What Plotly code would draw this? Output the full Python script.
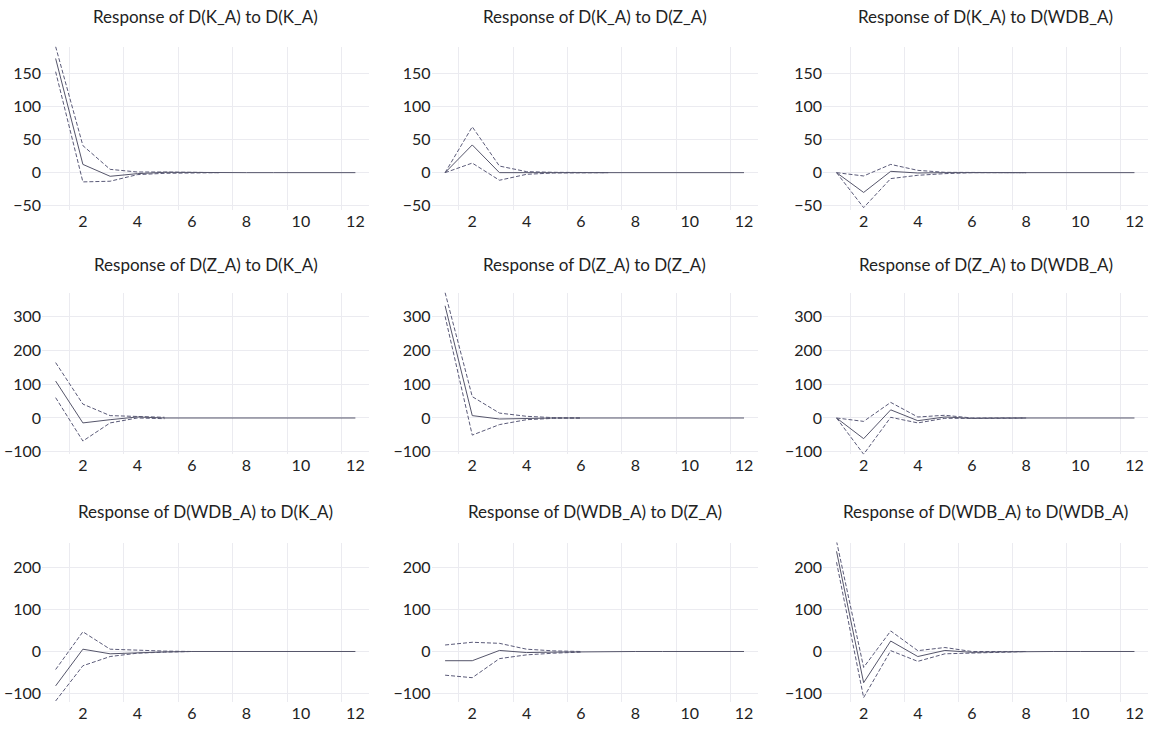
import plotly.graph_objects as go

# Impulse response horizons
periods = list(range(1, 13))
x_ticks = [2, 4, 6, 8, 10, 12]

# Response of D(K_A)
k_to_k_mid = [173, 12.5, -5.5, -1.5, 0.5, 0, 0, 0, 0, 0, 0, 0]
k_to_k_up = [191, 41, 5, 1, 1, 0, 0]
k_to_k_lo = [153, -14, -13, -3, -1, 0, 0]

k_to_z_mid = [0, 42, 0, -0.5, 0, 0, 0, 0, 0, 0, 0, 0]
k_to_z_up = [0, 69.5, 10, 1.5, 0.5, 0, 0]
k_to_z_lo = [0, 14.5, -11.5, -2.5, -0.5, 0, 0]

k_to_w_mid = [0, -30, 2, -0.5, 0, 0, 0, 0, 0, 0, 0, 0]
k_to_w_up = [0, -5, 12.5, 3.5, 0.5, 0, 0, 0]
k_to_w_lo = [0, -53, -9, -4, -1.5, 0, 0, 0]

# Response of D(Z_A)
z_to_k_mid = [109, -14.5, -5, 3, 0, 0, 0, 0, 0, 0, 0, 0]
z_to_k_up = [163.5, 41, 7, 5, 2]
z_to_k_lo = [60, -68, -14.5, 0, -2]

z_to_z_mid = [331, 7, -3, -1, 0, 0, 0, 0, 0, 0, 0, 0]
z_to_z_up = [370, 63, 14.5, 5, 1, 0]
z_to_z_lo = [300, -50.5, -19.5, -5, -1, 0]

z_to_w_mid = [0, -61, 24, -8, 3, -1, 0, 0, 0, 0, 0, 0]
z_to_w_up = [0, -10, 46, 3, 8, 0, 0, 0]
z_to_w_lo = [0, -107, 2, -14.5, -1, -2, -1, 0]

# Response of D(WDB_A)
w_to_k_mid = [-82, 5.5, -5.5, -2.5, -1, 0, 0, 0, 0, 0, 0, 0]
w_to_k_up = [-43, 47, 5.5, 2.5, 1, 0]
w_to_k_lo = [-118, -34, -12, -4, -1.5, 0]

w_to_z_mid = [-22, -22, 2.5, -2.5, -1.5, -0.5, 0, 0, 0, 0, 0, 0]
w_to_z_up = [15.5, 22, 19.5, 5.5, 1.5, 0]
w_to_z_lo = [-56.5, -62.5, -17, -8, -4, -1.5]

w_to_w_mid = [239, -74.5, 25, -12, 2.5, -2, -1, 0, 0, 0, 0, 0]
w_to_w_up = [263, -38, 49, 2, 9.5, 0, 0, 0]
w_to_w_lo = [213, -110, 2, -23.5, -5.5, -4.5, -2, 0]

titles = [
    "Response of D(K_A) to D(K_A)", "Response of D(K_A) to D(Z_A)", "Response of D(K_A) to D(WDB_A)",
    "Response of D(Z_A) to D(K_A)", "Response of D(Z_A) to D(Z_A)", "Response of D(Z_A) to D(WDB_A)",
    "Response of D(WDB_A) to D(K_A)", "Response of D(WDB_A) to D(Z_A)", "Response of D(WDB_A) to D(WDB_A)",
]

panels = [
    (k_to_k_mid, k_to_k_up, k_to_k_lo), (k_to_z_mid, k_to_z_up, k_to_z_lo), (k_to_w_mid, k_to_w_up, k_to_w_lo),
    (z_to_k_mid, z_to_k_up, z_to_k_lo), (z_to_z_mid, z_to_z_up, z_to_z_lo), (z_to_w_mid, z_to_w_up, z_to_w_lo),
    (w_to_k_mid, w_to_k_up, w_to_k_lo), (w_to_z_mid, w_to_z_up, w_to_z_lo), (w_to_w_mid, w_to_w_up, w_to_w_lo),
]

row_ticks = [[-50, 0, 50, 100, 150], [-100, 0, 100, 200, 300], [-100, 0, 100, 200]]
row_ranges = [[-57, 191], [-107, 370], [-121, 260]]

W, H = 1151, 734
col_px = [(42, 369), (431.5, 757.6), (823, 1148)]
row_px = [(47, 212), (295, 458), (547, 708)]
title_px = [17, 267, 516]

FONT = "Lato, 'Open Sans', sans-serif"
GRID = "#ebebf0"
SOLID = "#55556a"
DASH = "#5a5a78"

fig = go.Figure()
layout = {}
annotations = []

for i, (mid, up, lo) in enumerate(panels):
    r, c = divmod(i, 3)
    n = i + 1
    xa = "x" if n == 1 else f"x{n}"
    ya = "y" if n == 1 else f"y{n}"
    xkey = "xaxis" if n == 1 else f"xaxis{n}"
    ykey = "yaxis" if n == 1 else f"yaxis{n}"

    for series, dash, color in ((up, "4px,2px", DASH), (lo, "4px,2px", DASH), (mid, "solid", SOLID)):
        fig.add_trace(go.Scatter(
            x=periods[:len(series)], y=series, mode="lines",
            line=dict(color=color, width=1, dash=dash),
            xaxis=xa, yaxis=ya, showlegend=False, hoverinfo="skip",
        ))

    x0, x1 = col_px[c]
    y0, y1 = row_px[r]
    layout[xkey] = dict(
        domain=[x0 / W, x1 / W], anchor=ya, range=[0.5, 12.5],
        tickmode="array", tickvals=x_ticks, showgrid=False, zeroline=False,
        showline=False, ticks="",
        tickfont=dict(family=FONT, size=16, color="#222222"),
        minor=dict(tickmode="array", tickvals=[1.5, 3.5, 5.5, 7.5, 9.5, 11.5],
                   showgrid=True, gridcolor=GRID, gridwidth=1, ticks=""),
    )
    layout[ykey] = dict(
        domain=[1 - y1 / H, 1 - y0 / H], anchor=xa, range=row_ranges[r],
        tickmode="array", tickvals=row_ticks[r], showgrid=True, gridcolor=GRID,
        gridwidth=1, zeroline=False, showline=False, ticks="",
        tickfont=dict(family=FONT, size=16, color="#222222"),
    )
    annotations.append(dict(
        text=titles[i], xref="paper", yref="paper",
        x=(x0 + x1) / 2 / W, y=1 - title_px[r] / H,
        xanchor="center", yanchor="middle", showarrow=False,
        font=dict(family=FONT, size=17, color="#222222"),
    ))

fig.update_layout(
    **layout,
    annotations=annotations,
    width=W, height=H,
    margin=dict(l=0, r=0, t=0, b=0),
    paper_bgcolor="white", plot_bgcolor="white",
    showlegend=False,
)

fig.write_html("out.html")
